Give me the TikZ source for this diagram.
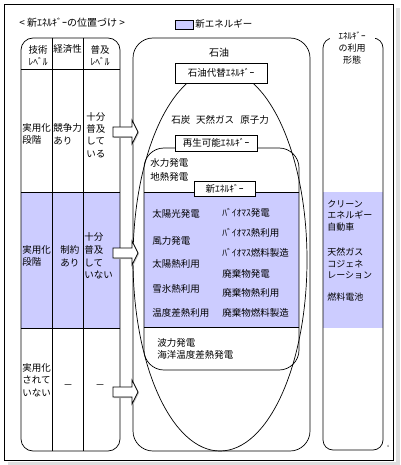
\documentclass[tikz,border=0pt]{standalone}
\usepackage{fontspec}
\setmainfont{Noto Sans CJK JP}
\definecolor{lav}{RGB}{204,204,255}
\begin{document}
\begin{tikzpicture}[x=1pt,y=-1pt,line width=0.7pt,
  txt/.style={inner sep=0pt,font=\fontsize{9.5}{12.5}\selectfont,align=left},
  rtxt/.style={inner sep=0pt,font=\fontsize{9}{11.5}\selectfont,align=left},
  labbox/.style={draw,fill=white,inner sep=0pt,font=\fontsize{9.5}{11}\selectfont},
  blockarr/.pic={
    \fill[gray!45] (-18,-4) -- (1,-4) -- (1,-11) -- (7,1) -- (1,13) -- (1,6) -- (-18,6) -- cycle;
    \filldraw[fill=white] (-19,-5) -- (0,-5) -- (0,-12) -- (6,0) -- (0,12) -- (0,5) -- (-19,5) -- cycle;}
  ]
\useasboundingbox (0,0) rectangle (400,465);
% outer frame with light shadow
\fill[gray!25] (396,8) rectangle (400,465);
\fill[gray!25] (8,462) rectangle (400,465);
\draw[line width=0.6pt] (4,4) rectangle (393,460);

% title and legend
\node[txt,anchor=west,font=\fontsize{10}{12}\selectfont] (title) at (19,23) {< 新ｴﾈﾙｷﾞｰの位置づけ >};
\fill[gray!50] (176,21) rectangle (194,30);
\filldraw[fill=lav] (175,20) rectangle (193,29);
\node[txt,anchor=west,font=\fontsize{9.5}{12}\selectfont] (legend) at (195,24) {新エネルギー};

% lavender bands
\fill[lav] (21,192) rectangle (120,328);
\fill[lav] (144,192) rectangle (299,327);
\fill[lav] (323,192) rectangle (383,328);

% left table
\draw[rounded corners=12] (21,38) rectangle (120,451);
\draw (21,69) -- (120,69);
\draw (21,192) -- (120,192);
\draw (21,328) -- (120,328);
\draw (52,38) -- (52,451);
\draw (83,38) -- (83,451);

% big oil region
\draw[rounded corners=20] (133,38) rectangle (310,451);
\draw (220,260) ellipse [x radius=87, y radius=191];
% renewable region
\draw[rounded corners=20] (144,148) rectangle (299,370);
\draw (144,192) -- (299,192);
\draw (144,327) -- (299,327);

% labelled boxes
\node[labbox,minimum width=92pt,minimum height=20pt] (alt) at (221,73) {石油代替ｴﾈﾙｷﾞｰ};
\node[labbox,minimum width=82pt,minimum height=16pt] (ren) at (216,143) {再生可能ｴﾈﾙｷﾞｰ};
\node[labbox,minimum width=61pt,minimum height=15pt] (new) at (224.5,188.5) {新ｴﾈﾙｷﾞｰ};

% block arrows
\pic at (132,132) {blockarr};
\pic at (132,253) {blockarr};
\pic at (132,392) {blockarr};

% right panel
\draw[rounded corners=10] (323,38) rectangle (383,450);
\node[fill=white,inner xsep=9pt,inner ysep=1pt,align=center,font=\fontsize{9}{12}\selectfont] (use) at (352,48) {ｴﾈﾙｷﾞｰ\\の利用\\形態};

% table header
\node[txt,align=center] (h1) at (38,55.5) {技術\\ﾚﾍﾞﾙ};
\node[txt,align=center] (h2) at (67.5,49) {経済性};
\node[txt,align=center] (h3) at (100,55.5) {普及\\ﾚﾍﾞﾙ};
% table rows
\node[txt,anchor=west] (r1a) at (22,134) {実用化\\段階};
\node[txt,anchor=west] (r1b) at (53,134) {競争力\\あり};
\node[txt,anchor=west,font=\fontsize{9.5}{12.3}\selectfont] (r1c) at (86,135) {十分\\普及\\して\\いる};
\node[txt,anchor=west] (r2a) at (22,256) {実用化\\段階};
\node[txt,anchor=west] (r2b) at (60,256) {制約\\あり};
\node[txt,anchor=west,font=\fontsize{9.5}{12.6}\selectfont] (r2c) at (84,256) {十分\\普及\\して\\いない};
\node[txt,anchor=west] (r3a) at (22,380) {実用化\\されて\\いない};
\node[txt] (r3b) at (68,387) {－};
\node[txt] (r3c) at (100,387) {－};

% oil region texts
\node[txt,font=\fontsize{10}{12}\selectfont] (oil) at (219,53) {石油};
\node[txt] (fossil) at (220,120) {石炭\hspace{6pt}天然ガス\hspace{6pt}原子力};
\node[txt,anchor=west,font=\fontsize{9.5}{13.5}\selectfont] (hydro) at (150,170) {水力発電\\地熱発電};
\node[txt,anchor=west] (n1) at (152,214) {太陽光発電};
\node[txt,anchor=west] (n2) at (152,241) {風力発電};
\node[txt,anchor=west] (n3) at (152,264) {太陽熱利用};
\node[txt,anchor=west] (n4) at (152,289) {雪氷熱利用};
\node[txt,anchor=west] (n5) at (152,313) {温度差熱利用};
\node[txt,anchor=west] (b1) at (222,213) {ﾊﾞｲｵﾏｽ発電};
\node[txt,anchor=west] (b2) at (222,233) {ﾊﾞｲｵﾏｽ熱利用};
\node[txt,anchor=west] (b3) at (222,253) {ﾊﾞｲｵﾏｽ燃料製造};
\node[txt,anchor=west] (b4) at (222,274) {廃棄物発電};
\node[txt,anchor=west] (b5) at (222,293) {廃棄物熱利用};
\node[txt,anchor=west] (b6) at (222,313) {廃棄物燃料製造};
\node[txt,anchor=west,font=\fontsize{9.5}{12}\selectfont] (wave) at (157,349) {波力発電\\海洋温度差熱発電};

% right panel texts
\node[rtxt,anchor=west] (u1) at (327,215.5) {クリーン\\エネルギー\\自動車};
\node[rtxt,anchor=west] (u2) at (327,263.5) {天然ガス\\コジェネ\\レーション};
\node[rtxt,anchor=west] (u3) at (327,297) {燃料電池};

\node[inner sep=0pt,font=\fontsize{3}{3}\selectfont] (pg) at (388,446) {4};
\end{tikzpicture}
\end{document}
